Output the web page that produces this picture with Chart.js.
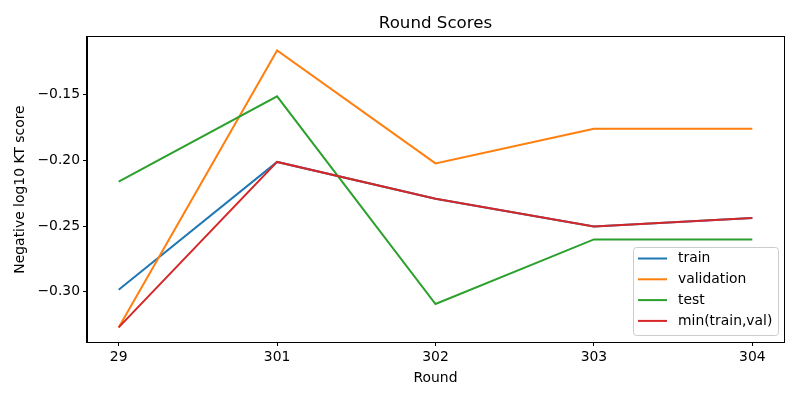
<!DOCTYPE html>
<html>
<head>
<meta charset="utf-8">
<script src="https://cdn.jsdelivr.net/npm/chart.js@4.4.1/dist/chart.umd.min.js"></script>
<style>
  html, body { margin: 0; padding: 0; background: #fff; }
  #wrap { width: 800px; height: 400px; }
</style>
</head>
<body>
<div id="wrap"><canvas id="c" width="800" height="400"></canvas></div>
<script>
const rounds = ["29", "301", "302", "303", "304"];
const trainScores = [-0.2985, -0.2012, -0.2292, -0.2503, -0.2439];
const validationScores = [-0.3272, -0.1163, -0.2023, -0.1759, -0.1759];
const testScores = [-0.2162, -0.1513, -0.3094, -0.2602, -0.2602];
const minScores = [-0.3272, -0.2012, -0.2292, -0.2503, -0.2439];
const yTickValues = [-0.30, -0.25, -0.20, -0.15];
const seriesNames = ["train", "validation", "test", "min(train,val)"];
const seriesColors = ["#1f77b4", "#ff7f0e", "#2ca02c", "#d62728"];

const FONT = "'DejaVu Sans', sans-serif";
Chart.defaults.font.family = FONT;
Chart.defaults.color = '#000';

function toPoints(arr) { return arr.map((v, i) => ({ x: i, y: v })); }
const allSeries = [trainScores, validationScores, testScores, minScores];

const frameAndLegend = {
  id: 'frameAndLegend',
  afterDraw(chart) {
    const ctx = chart.ctx;
    const a = chart.chartArea;
    ctx.save();
    ctx.strokeStyle = '#000';
    ctx.lineWidth = 1;
    ctx.strokeRect(Math.round(a.left) - 0.5, Math.round(a.top) - 0.5,
                   Math.round(a.right - a.left) + 1, Math.round(a.bottom - a.top) + 1);
    // legend (lower right)
    const bx = 633.5, by = 247.5, bw = 145, bh = 88, r = 3;
    ctx.beginPath();
    ctx.moveTo(bx + r, by);
    ctx.lineTo(bx + bw - r, by);
    ctx.arcTo(bx + bw, by, bx + bw, by + r, r);
    ctx.lineTo(bx + bw, by + bh - r);
    ctx.arcTo(bx + bw, by + bh, bx + bw - r, by + bh, r);
    ctx.lineTo(bx + r, by + bh);
    ctx.arcTo(bx, by + bh, bx, by + bh - r, r);
    ctx.lineTo(bx, by + r);
    ctx.arcTo(bx, by, bx + r, by, r);
    ctx.closePath();
    ctx.fillStyle = 'rgba(255,255,255,0.8)';
    ctx.fill();
    ctx.strokeStyle = '#cccccc';
    ctx.stroke();
    ctx.font = '13.9px ' + FONT;
    ctx.textBaseline = 'middle';
    ctx.textAlign = 'left';
    chart.data.datasets.forEach((ds, i) => {
      const cy = 258.5 + i * 20.8;
      ctx.beginPath();
      ctx.strokeStyle = ds.borderColor;
      ctx.lineWidth = 2;
      ctx.moveTo(638, cy);
      ctx.lineTo(667, cy);
      ctx.stroke();
      ctx.fillStyle = '#000';
      ctx.fillText(ds.label, 678, cy);
    });
    ctx.restore();
  }
};

new Chart(document.getElementById('c'), {
  type: 'line',
  data: {
    datasets: seriesNames.map((name, i) => ({
      label: name,
      data: toPoints(allSeries[i]),
      borderColor: seriesColors[i],
      backgroundColor: seriesColors[i],
      borderWidth: 2,
      pointRadius: 0,
      tension: 0,
      fill: false,
      order: 3 - i
    }))
  },
  options: {
    responsive: false,
    devicePixelRatio: 1,
    animation: false,
    layout: { padding: { left: 0, right: 16, top: 0, bottom: 0 } },
    plugins: {
      legend: { display: false },
      tooltip: { enabled: false },
      title: {
        display: true,
        fullSize: false,
        text: 'Round Scores',
        color: '#000',
        font: { size: 16.67, weight: 'normal', family: FONT, lineHeight: 1.2 },
        padding: { top: 14, bottom: 3 }
      }
    },
    scales: {
      x: {
        type: 'linear',
        min: -0.2,
        max: 4.2,
        afterBuildTicks(scale) { scale.ticks = rounds.map((_, i) => ({ value: i })); },
        afterFit(scale) { scale.height = 58; },
        ticks: {
          color: '#000',
          font: { size: 13.9 },
          padding: 3,
          maxRotation: 0,
          autoSkip: false,
          callback: (v) => rounds[v] !== undefined ? rounds[v] : ''
        },
        grid: { drawOnChartArea: false, drawTicks: true, tickLength: 4, color: '#000' },
        border: { display: true, color: '#000', width: 1 },
        title: {
          display: true,
          text: 'Round',
          color: '#000',
          font: { size: 13.9, lineHeight: 1.2 },
          padding: { top: 0, bottom: 13.5 }
        }
      },
      y: {
        type: 'linear',
        min: -0.3383,
        max: -0.1061,
        afterBuildTicks(scale) { scale.ticks = yTickValues.map(v => ({ value: v })); },
        afterFit(scale) { scale.width = 87; },
        ticks: {
          color: '#000',
          font: { size: 13.9 },
          padding: 3,
          autoSkip: false,
          callback: (v) => (v < 0 ? '\u2212' : '') + Math.abs(v).toFixed(2)
        },
        grid: { drawOnChartArea: false, drawTicks: true, tickLength: 4, color: '#000' },
        border: { display: true, color: '#000', width: 1 },
        title: {
          display: true,
          text: 'Negative log10 KT score',
          color: '#000',
          font: { size: 13.9, lineHeight: 1.2 },
          padding: { top: 12, bottom: 0 }
        }
      }
    }
  },
  plugins: [frameAndLegend]
});
</script>
</body>
</html>
